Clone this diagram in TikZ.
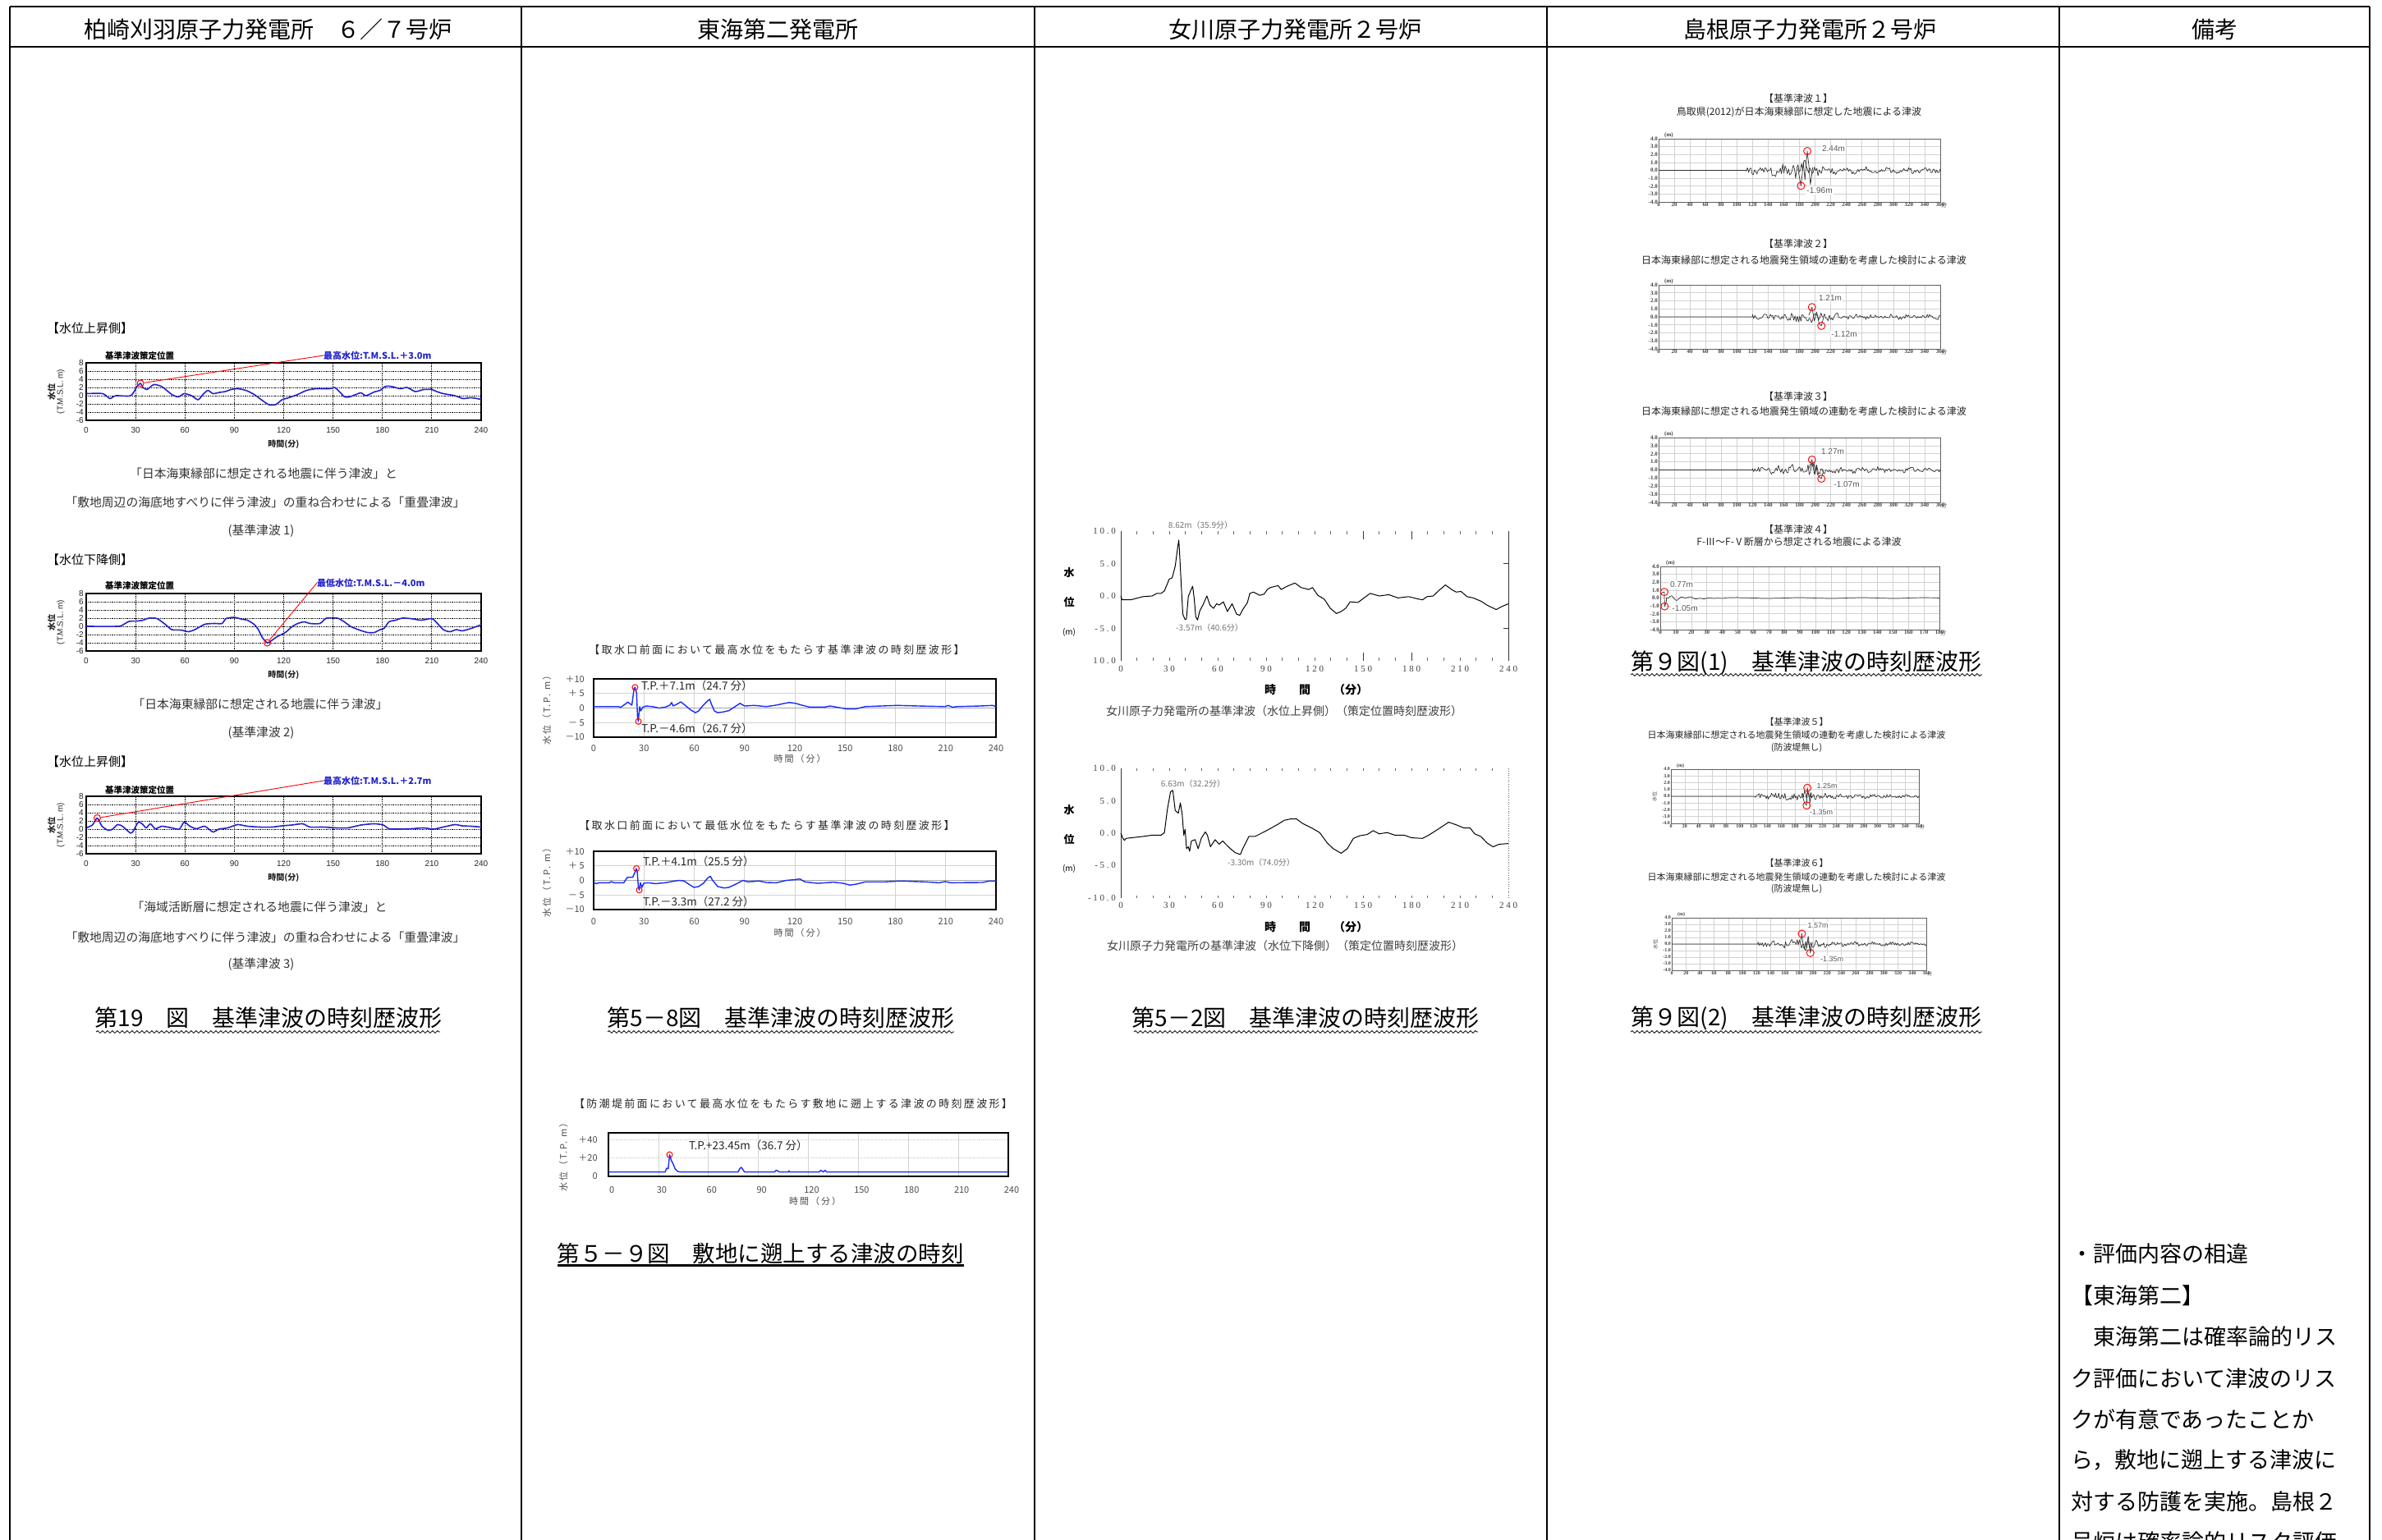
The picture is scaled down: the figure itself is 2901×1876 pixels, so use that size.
\documentclass[tikz,border=0pt]{standalone}
\usepackage{fontspec}
\setmainfont{Noto Sans CJK JP}
\newfontfamily\jp{Noto Sans CJK JP}
\newfontfamily\jpsp[LetterSpace=18]{Noto Sans CJK JP}
\newfontfamily\arf{Liberation Sans}
\newfontfamily\serf{Liberation Serif}
\newfontfamily\serfsp[LetterSpace=25]{Liberation Serif}
\usetikzlibrary{decorations.pathmorphing}
\newcommand\setfs[1]{\fontsize{#1}{#1}\selectfont}
\definecolor{kblue}{RGB}{35,35,205}
\definecolor{tblue}{RGB}{25,45,250}
\tikzset{
 tbl/.style={line width=2.4pt},
 hdr/.style={font=\jp\setfs{28}, inner sep=0pt},
 bigcap/.style={font=\jp\setfs{28}, inner sep=0pt},
 wavy/.style={decorate, decoration={snake, segment length=6pt, amplitude=1.4pt}, line width=0.8pt},
 lbl/.style={font=\jp\setfs{15}, inner sep=0pt, anchor=west},
 kcap/.style={font=\jp\setfs{14.8}, inner sep=0pt, text=black!80},
 kframe/.style={line width=1.5pt},
 kgrid/.style={densely dotted, line width=0.8pt},
 kcurve/.style={kblue, line width=1.6pt, line join=round},
 ktick/.style={font=\arf\setfs{10}, inner sep=0pt, text=black!85},
 kjp/.style={font=\jp\bfseries\setfs{10}, inner sep=0pt, text=black!85},
 ktitle/.style={font=\jp\bfseries\setfs{10.5}, inner sep=0pt, anchor=west},
 kmax/.style={font=\jp\bfseries\setfs{11}, text=kblue, inner sep=0pt, anchor=west},
 kcirc/.style={circle, draw=red, line width=1pt, minimum size=8pt, inner sep=0pt},
 kline/.style={red, line width=0.9pt},
 ttitle/.style={font=\jpsp\setfs{13}, inner sep=0pt, text=black!85},
 tframe/.style={line width=1.8pt},
 tgrid/.style={gray!35, line width=0.7pt},
 tzero/.style={gray!70, line width=0.8pt},
 tcurve/.style={tblue, line width=1.4pt, line join=round},
 ttick/.style={font=\jp\setfs{11}, inner sep=0pt, text=black!70},
 tann/.style={font=\jp\setfs{13.5}, inner sep=0pt, anchor=west, text=black!85},
 tcirc/.style={circle, draw=red, line width=1pt, minimum size=7pt, inner sep=0pt},
 oaxis/.style={line width=1pt, black!80},
 otick/.style={line width=0.7pt, black!60},
 ocurve/.style={black, line width=1pt, line join=round},
 onum/.style={font=\serfsp\setfs{11}, inner sep=0pt, text=black!75},
 olab/.style={font=\jp\bfseries\setfs{13}, inner sep=0pt},
 oann/.style={font=\jp\setfs{10}, inner sep=0pt, text=black!55},
 ocap/.style={font=\jp\setfs{14}, inner sep=0pt, text=black!75},
 sgridl/.style={gray!35, line width=0.6pt},
 sframe/.style={gray!75!black, line width=0.9pt},
 scurve/.style={black!80, line width=0.7pt, line join=round},
 stick/.style={inner sep=1pt, text=black!75},
 sann/.style={font=\arf\setfs{10}, fill=white, inner sep=1pt, text=black!65},
 scirc/.style={circle, draw=red, line width=0.9pt, minimum size=9pt, inner sep=0pt},
 stitle/.style={font=\jp\setfs{12}, inner sep=0pt, text=black!85},
 rem/.style={font=\jp\setfs{27}, inner sep=0pt, anchor=west},
 sch/.style n args={5}{shift={(#1,{(#3+#4)/2})}, xscale={(#2-#1)/#5}, yscale={-(#4-#3)/8}}
}
% grid, frame and labels of a Shimane chart: #1 tmax, #2 step, #3 font size
\newcommand\sgrid[3]{%
 \foreach \xx in {0,#2,...,#1} \draw[sgridl] (\xx,-4) -- (\xx,4);
 \foreach \yy in {-3,...,3} \draw[sgridl] (0,\yy) -- (#1,\yy);
 \draw[sframe] (0,-4) rectangle (#1,4);
 \foreach \yy/\lab in {4/4.0,3/3.0,2/2.0,1/1.0,0/0.0,-1/-1.0,-2/-2.0,-3/-3.0,-4/-4.0}
   \node[stick,font=\serf\bfseries\setfs{#3},anchor=east] at (0,\yy) {\lab};
 \foreach \xx in {0,#2,...,#1}
   \node[stick,font=\serf\bfseries\setfs{#3},anchor=north] at (\xx,-4) {\xx};
 \node[stick,font=\jp\setfs{#3},anchor=north west] at (#1,-4) {分};
 \node[stick,font=\serf\bfseries\setfs{#3},anchor=south west,xshift=6pt] at (0,4) {(m)};
}
\begin{document}
\begin{tikzpicture}[x=1pt,y=-1pt]
\useasboundingbox (0,0) rectangle (2901,1876);
\fill[white] (0,0) rectangle (2901,1876);
\pgfmathsetseed{2718}
% ---------------- table ----------------
\draw[tbl] (12,8) -- (2886,8);
\draw[tbl] (12,57) -- (2886,57);
\foreach \xx in {12,635,1260,1884,2508,2886} \draw[tbl] (\xx,8) -- (\xx,1880);
\node[hdr] (h1) at (326,36) {柏崎刈羽原子力発電所　６／７号炉};
\node[hdr] (h2) at (947,36) {東海第二発電所};
\node[hdr] (h3) at (1577,36) {女川原子力発電所２号炉};
\node[hdr] (h4) at (2204,36) {島根原子力発電所２号炉};
\node[hdr] (h5) at (2697,36) {備考};

% ---------------- column 1 : Kashiwazaki-Kariwa ----------------
\node[lbl] (k1h) at (57,400) {【水位上昇側】};
\begin{scope}[shift={(105,482)},xscale=2.004,yscale=-5]
 \foreach \yy in {-4,-2,...,6} \draw[kgrid] (0,\yy) -- (240,\yy);
 \foreach \xx in {30,60,...,210} \draw[kgrid] (\xx,-6) -- (\xx,8);
 \draw[kframe] (0,-6) rectangle (240,8);
 \foreach \yy in {-6,-4,...,8} \node[ktick,anchor=east] at (-1.5,\yy) {\yy};
 \foreach \xx in {0,30,...,240} \node[ktick] at (\xx,-8.4) {\xx};
 \node[kjp] at (120,-11.8) {時間(分)};
 \node[kjp,rotate=90] at (-21,1) {水位};
 \node[ktick,rotate=90] at (-15.5,1) {(T.M.S.L. m)};
 \draw[kcurve] plot[smooth,tension=0.4] coordinates {(0,0.5) (10,0.5) (14.4,-0.7) (18,0) (27,0) (31,2.3) (33,3.0) (34.5,2) (37,1.5) (41,2.7) (46,2.2) (52,0.3) (56,-0.3) (59.5,0.5) (64,0) (68,-1) (71,0.3) (74,1.3) (77,0.5) (81,0.8) (84.5,1) (88,1.5) (92,1.7) (97,1.3) (102,0.3) (107.5,-1.3) (111,-2.2) (115,-2.2) (119,-1) (123,-0.5) (128.6,0.3) (134,1.3) (140,1.7) (148,1.7) (151,2) (154.6,0.7) (157,-0.3) (160,-0.3) (164,0.3) (167,0.7) (170,0) (175,0.9) (178.6,1.3) (182,2.3) (186,2.2) (191,1.7) (195,2) (200,1) (205,1.5) (210,1.5) (213,1) (217,0.5) (224,0) (229,-0.7) (234,-0.5) (240,-0.9)};
 \node[kcirc] (kc1) at (33,3.0) {};
\end{scope}
\node[ktitle] (kt1) at (128,433) {基準津波策定位置};
\node[kmax] (km1) at (394,433) {最高水位:T.M.S.L.＋3.0m};
\draw[kline] (kc1) -- (km1.west);
\node[kcap] (kp1) at (321,577) {「日本海東縁部に想定される地震に伴う津波」と};
\node[kcap] (kp2) at (323,612) {「敷地周辺の海底地すべりに伴う津波」の重ね合わせによる「重畳津波」};
\node[kcap] (kp3) at (318,647) {(基準津波 1)};

\node[lbl] (k2h) at (57,682) {【水位下降側】};
\begin{scope}[shift={(105,763)},xscale=2.004,yscale=-5]
 \foreach \yy in {-4,-2,...,6} \draw[kgrid] (0,\yy) -- (240,\yy);
 \foreach \xx in {30,60,...,210} \draw[kgrid] (\xx,-6) -- (\xx,8);
 \draw[kframe] (0,-6) rectangle (240,8);
 \foreach \yy in {-6,-4,...,8} \node[ktick,anchor=east] at (-1.5,\yy) {\yy};
 \foreach \xx in {0,30,...,240} \node[ktick] at (\xx,-8.4) {\xx};
 \node[kjp] at (120,-11.8) {時間(分)};
 \node[kjp,rotate=90] at (-21,1) {水位};
 \node[ktick,rotate=90] at (-15.5,1) {(T.M.S.L. m)};
 \draw[kcurve] plot[smooth,tension=0.4] coordinates {(0,0) (19,0) (22,0.3) (26,1.2) (31,1.3) (34.5,1.5) (38,2) (43,1.9) (48,0.5) (52,-0.8) (57.6,-0.9) (62,-1.3) (66,-0.8) (72,0.5) (77.8,0.7) (82.5,0.7) (85,1.9) (90,2.2) (95,1.7) (98,1.5) (102,0.5) (104.6,-0.8) (107,-2.7) (110,-4.0) (112.5,-3.5) (116,-2.5) (121,-1.5) (125,-0.1) (128.6,0.7) (132.5,1.1) (136,0.7) (142,0.7) (146,2) (152.6,2) (156.5,1.2) (161,-0.1) (166,-0.9) (171,-1.5) (175,-1.5) (178.6,-0.8) (181,-0.5) (184,1.1) (188,1.5) (192,2) (197,1.9) (203.5,1.5) (210,1.9) (213,0.9) (217,-0.8) (221,-1.3) (225,-0.8) (228.5,-1.1) (234,-0.5) (240,0.4)};
 \node[kcirc] (kc2) at (110,-4.0) {};
\end{scope}
\node[ktitle] (kt2) at (128,713) {基準津波策定位置};
\node[kmax] (km2) at (386,710) {最低水位:T.M.S.L.－4.0m};
\draw[kline] (kc2) -- (km2.west);
\node[kcap] (kp4) at (317,858) {「日本海東縁部に想定される地震に伴う津波」};
\node[kcap] (kp5) at (318,893) {(基準津波 2)};

\node[lbl] (k3h) at (57,928) {【水位上昇側】};
\begin{scope}[shift={(105,1010)},xscale=2.004,yscale=-5]
 \foreach \yy in {-4,-2,...,6} \draw[kgrid] (0,\yy) -- (240,\yy);
 \foreach \xx in {30,60,...,210} \draw[kgrid] (\xx,-6) -- (\xx,8);
 \draw[kframe] (0,-6) rectangle (240,8);
 \foreach \yy in {-6,-4,...,8} \node[ktick,anchor=east] at (-1.5,\yy) {\yy};
 \foreach \xx in {0,30,...,240} \node[ktick] at (\xx,-8.4) {\xx};
 \node[kjp] at (120,-11.8) {時間(分)};
 \node[kjp,rotate=90] at (-21,1) {水位};
 \node[ktick,rotate=90] at (-15.5,1) {(T.M.S.L. m)};
 \draw[kcurve] plot[smooth,tension=0.4] coordinates {(0,0.3) (3.8,1) (6.7,2.7) (9.6,0.7) (13.4,-0.3) (16,0) (19,1.1) (22,0.7) (27,-1) (28.8,-0.3) (31.7,1.7) (34.5,1.1) (36.5,0.3) (39,1.3) (42,0.1) (46,0.7) (52,0.3) (56.6,0) (59.5,1.7) (63,0.7) (67,0.1) (72,0.7) (77,-0.7) (80.6,0) (86,0.3) (92,1.1) (98,0.7) (105.6,0.5) (113,0.5) (119,0.8) (125,1) (131.5,1.3) (136,0.5) (144,0.5) (151.7,0.3) (159,0.3) (167,1) (175,1.3) (180.5,1) (184,0.1) (190,0) (198,0.1) (205,0.3) (211,0) (217,0.5) (224,1.1) (228.5,0.8) (234,0.7) (240,0.5)};
 \node[kcirc] (kc3) at (6.7,2.7) {};
\end{scope}
\node[ktitle] (kt3) at (128,962) {基準津波策定位置};
\node[kmax] (km3) at (394,951) {最高水位:T.M.S.L.＋2.7m};
\draw[kline] (kc3) -- (km3.west);
\node[kcap] (kp6) at (316,1105) {「海域活断層に想定される地震に伴う津波」と};
\node[kcap] (kp7) at (323,1142) {「敷地周辺の海底地すべりに伴う津波」の重ね合わせによる「重畳津波」};
\node[kcap] (kp8) at (318,1175) {(基準津波 3)};
\node[bigcap] (c1) at (327,1240) {第19　図　基準津波の時刻歴波形};
\draw[wavy] (117,1257) -- (536,1257);

% ---------------- column 2 : Tokai Daini ----------------
\node[ttitle] (tt1) at (946,792) {【取水口前面において最高水位をもたらす基準津波の時刻歴波形】};
\begin{scope}[shift={(723,862.5)},xscale=2.0417,yscale=-3.55]
 \foreach \xx in {30,60,...,210} \draw[tgrid] (\xx,-10) -- (\xx,10);
 \foreach \yy in {-5,5} \draw[tgrid] (0,\yy) -- (240,\yy);
 \draw[tzero] (0,0) -- (240,0);
 \draw[tframe] (0,-10) rectangle (240,10);
 \foreach \yy/\lab in {10/＋10,5/＋ 5,0/0,-5/－ 5,-10/－10} \node[ttick,anchor=east] at (-5.4,\yy) {\lab};
 \foreach \xx in {0,30,...,240} \node[ttick] at (\xx,-13.9) {\xx};
 \node[ttick,font=\jpsp\setfs{11}] at (123,-17.4) {時間（分）};
 \node[ttick,rotate=90,font=\jpsp\setfs{11}] at (-28,0) {水位（T.P. m）};
 \draw[tcurve] (0,0.5) -- (15,0.5) -- (16,0.2) -- (19.5,1.6) -- (20.3,2.1) -- (21.8,1.4) -- (22.8,1) -- (24.1,6.7) -- (24.7,7.1) -- (25.6,5.2) -- (26.2,-3.3) -- (26.7,-4.6) -- (26.9,-2.4) -- (27.5,0.5) -- (28,-1) -- (29.4,0.3) -- (31.3,0.7) -- (35,0.5) -- (39,0) -- (42.7,0.3) -- (45.5,1) -- (46.5,1.9) -- (47.4,0.7) -- (49.3,1.2) -- (52,2.1) -- (54,1.2) -- (58,-0.7) -- (60.7,-1.6) -- (62.6,-1) -- (65.4,1) -- (68.3,2.6) -- (69.2,3) -- (70.2,1.4) -- (72,-1) -- (74,-1.6) -- (76.8,-1.4) -- (80.6,-0.9) -- (84.4,0.5) -- (87.3,1.6) -- (90,0.7) -- (95.8,0.9) -- (103,0.5) -- (109,1) -- (113.8,1.6) -- (116.7,1.9) -- (120.5,1.6) -- (124,1) -- (129,0.3) -- (137.5,0.3) -- (141,0.7) -- (145,0.3) -- (150.8,-0.3) -- (156.5,-0.3) -- (162,0.5) -- (171.7,0.7) -- (181,0.9) -- (194,0.7) -- (209.6,0.5) -- (211.5,0.9) -- (214,0.3) -- (217,0.5) -- (230.5,0.7) -- (238,0.9) -- (240,0.5);
 \node[tcirc] (tc1) at (24.7,7.1) {};
 \node[tcirc] (tc2) at (26.7,-4.6) {};
\end{scope}
\node[tann] (ta1) at (781,835) {T.P.＋7.1m（24.7 分）};
\node[tann] (ta2) at (781,887) {T.P.－4.6m（26.7 分）};

\node[ttitle] (tt2) at (934,1006) {【取水口前面において最低水位をもたらす基準津波の時刻歴波形】};
\begin{scope}[shift={(723,1072.5)},xscale=2.0417,yscale=-3.55]
 \foreach \xx in {30,60,...,210} \draw[tgrid] (\xx,-10) -- (\xx,10);
 \foreach \yy in {-5,5} \draw[tgrid] (0,\yy) -- (240,\yy);
 \draw[tzero] (0,0) -- (240,0);
 \draw[tframe] (0,-10) rectangle (240,10);
 \foreach \yy/\lab in {10/＋10,5/＋ 5,0/0,-5/－ 5,-10/－10} \node[ttick,anchor=east] at (-5.4,\yy) {\lab};
 \foreach \xx in {0,30,...,240} \node[ttick] at (\xx,-14.2) {\xx};
 \node[ttick,font=\jpsp\setfs{11}] at (123,-17.9) {時間（分）};
 \node[ttick,rotate=90,font=\jpsp\setfs{11}] at (-28,0) {水位（T.P. m）};
 \draw[tcurve] (0,-0.8) -- (1.9,-1.1) -- (2.8,-0.8) -- (9.5,-0.8) -- (10.4,-0.4) -- (12.3,-0.8) -- (18,-0.8) -- (20,1) -- (21.8,1.1) -- (23.3,1.1) -- (24.7,2.9) -- (25.5,4.1) -- (26,2.9) -- (26.7,-2.4) -- (27.2,-3.3) -- (27.9,-0.8) -- (28.8,-2.4) -- (29.8,-1) -- (32.2,-0.8) -- (37,-1.1) -- (42.7,-0.8) -- (48.4,-0.2) -- (51,0) -- (54,-0.2) -- (57,-1.4) -- (59.8,-2.4) -- (62.6,-2.1) -- (65.4,-1) -- (68.3,1) -- (69.6,1.4) -- (71,0) -- (74,-2.1) -- (77.8,-2.6) -- (80.6,-2.4) -- (84.4,-1.4) -- (89,0) -- (92,-0.5) -- (98.6,-0.2) -- (103,-0.7) -- (109,-0.8) -- (114.8,0) -- (120.5,0.3) -- (123,0.5) -- (126,-0.5) -- (133.7,-1) -- (143,-0.6) -- (149,-1) -- (152.7,-1.6) -- (156.5,-1.3) -- (162,-0.5) -- (173.5,-0.5) -- (183,-0.2) -- (198,-0.5) -- (206,-0.8) -- (209.6,-0.4) -- (213,-0.8) -- (232,-0.7) -- (236,-0.2) -- (240,-0.2);
 \node[tcirc] (tc3) at (25.5,4.1) {};
 \node[tcirc] (tc4) at (27.2,-3.3) {};
\end{scope}
\node[tann] (ta3) at (783,1049) {T.P.＋4.1m（25.5 分）};
\node[tann] (ta4) at (783,1098) {T.P.－3.3m（27.2 分）};
\node[bigcap] (c2) at (951,1240) {第5－8図　基準津波の時刻歴波形};
\draw[wavy] (740,1257) -- (1162,1257);

\node[ttitle] (tt3) at (966,1345) {【防潮堤前面において最高水位をもたらす敷地に遡上する津波の時刻歴波形】};
\begin{scope}[shift={(741,1433)},xscale=2.029,yscale=-1.125]
 \foreach \xx in {30,60,...,210} \draw[tgrid] (\xx,0) -- (\xx,47.1);
 \foreach \yy in {20,40} \draw[tgrid,densely dotted] (0,\yy) -- (240,\yy);
 \draw[tframe] (0,0) rectangle (240,47.1);
 \foreach \yy/\lab in {40/＋40,20/＋20,0/0} \node[ttick,anchor=east] at (-6.5,\yy) {\lab};
 \foreach \xx in {0,30,...,240} \node[ttick] at (\xx+2,-15.1) {\xx};
 \node[ttick,font=\jpsp\setfs{11}] at (124,-26.7) {時間（分）};
 \node[ttick,rotate=90,font=\jpsp\setfs{11}] at (-27,23) {水位（T.P. m）};
 \draw[tcurve] (0,4.7) -- (34,4.7) -- (35,8.9) -- (35.9,8.3) -- (36.7,23.45) -- (37.8,17) -- (38.7,14) -- (40,8.3) -- (41.6,5.3) -- (43.5,4.7) -- (77.8,4.7) -- (78.8,8.3) -- (79.8,9.8) -- (81.7,4.7) -- (99.8,4.7) -- (100.7,6.8) -- (102.6,4.7) -- (108,4.7) -- (108.4,5.9) -- (109,4.7) -- (126.5,4.7) -- (127.5,6.5) -- (129,4.7) -- (130,6.5) -- (131,4.7) -- (240,4.7);
 \node[tcirc] (tc5) at (36.7,23.45) {};
\end{scope}
\node[tann] (ta5) at (839,1395) {T.P.+23.45m（36.7 分）};
\node[bigcap,font=\jp\setfs{27.5}] (c3) at (926,1527) {第５－９図　敷地に遡上する津波の時刻};
\draw[line width=3pt] (679,1541) -- (1174,1541);

% ---------------- column 3 : Onagawa ----------------
\begin{scope}[shift={(1365,726)},xscale=1.967,yscale=-7.9]
 \draw[oaxis] (0,10) -- (0,-10);
 \draw[oaxis] (240,10) -- (240,-10);
 \foreach \yy in {5,-5} \draw[oaxis] (240,\yy) -- (237,\yy);
 \foreach \xx in {10,20,...,230} {\draw[otick] (\xx,10) -- (\xx,9.5); \draw[otick] (\xx,-10) -- (\xx,-9.5);}
 \foreach \xx in {150,180} {\draw[oaxis] (\xx,10) -- (\xx,8.7); \draw[oaxis] (\xx,-10) -- (\xx,-8.7);}
 \foreach \yy/\lab in {10/10.0,5/5.0,0/0.0,-5/-5.0,-10/10.0} \node[onum,anchor=east] at (-3,\yy) {\lab};
 \foreach \xx in {0,30,...,240} \node[onum] at (\xx,-11.3) {\xx};
 \draw[ocurve] (0,0) -- (0.8,-0.6) -- (6,-0.6) -- (13.7,-0.1) -- (19.4,0) -- (22.3,0.4) -- (25,0.4) -- (27,0.8) -- (30,2.6) -- (31.8,2.8) -- (33.7,4.6) -- (35,7.1) -- (35.9,8.62) -- (36.3,7.1) -- (37.5,1.3) -- (38.4,-2.8) -- (39.7,-3.6) -- (40.6,-3.57) -- (41.8,-0.1) -- (43.2,0.8) -- (44.5,1.5) -- (45.5,-0.5) -- (46.4,-3.2) -- (47.5,-3.7) -- (48.9,-2.3) -- (50.8,-1.4) -- (53.3,0) -- (55.2,-1.4) -- (57.4,-1.9) -- (59.3,-1.2) -- (60.9,-1.4) -- (63.5,-0.9) -- (66,-2.4) -- (68.9,-1.2) -- (71.7,-2.8) -- (73.6,-3) -- (75.5,-2.1) -- (78.4,-1) -- (79.9,0.4) -- (82.2,0.6) -- (86,0.1) -- (88.8,0.3) -- (90.7,1) -- (92.6,1.3) -- (97.4,1.6) -- (99.3,1) -- (103,1.5) -- (107.8,2) -- (111.6,1.3) -- (116.4,1) -- (118.7,1.3) -- (122,0.1) -- (126,-0.5) -- (129.7,-1.9) -- (133.5,-2.7) -- (136.4,-2.4) -- (139.2,-1.9) -- (142,-0.9) -- (146.8,-1) -- (150.6,-0.3) -- (154.4,0.4) -- (160,0) -- (165.9,0.2) -- (171.6,-0.3) -- (178.2,-0.1) -- (183,-0.4) -- (186.8,-0.6) -- (189.6,-0.1) -- (193.4,0) -- (197.2,0.9) -- (201,1.7) -- (204.8,1) -- (207.7,0.6) -- (210.6,0.7) -- (214.4,-0.1) -- (218.2,-0.3) -- (223,-0.8) -- (226.7,-1.4) -- (232.4,-2.1) -- (235.3,-1.7) -- (240,-1.2);
\end{scope}
\node[olab] (oy1) at (1302,698) {水};
\node[olab] (oy2) at (1302,734) {位};
\node[olab,font=\jp\setfs{10}] (oy3) at (1302,770) {(m)};
\node[oann] (oa1) at (1462,640) {8.62m（35.9分）};
\node[oann] (oa2) at (1473,765) {-3.57m（40.6分）};
\node[olab,anchor=west,font=\jp\bfseries\setfs{14}] (ox1) at (1540,840) {時　　間　　（分）};
\node[ocap] (oc1) at (1564,866) {女川原子力発電所の基準津波（水位上昇側）（策定位置時刻歴波形）};

\begin{scope}[shift={(1365,1015)},xscale=1.967,yscale=-7.88]
 \draw[oaxis] (0,10) -- (0,-10);
 \draw[otick,dotted] (240,10) -- (240,-10);
 \foreach \xx in {10,20,...,230} {\draw[otick] (\xx,10) -- (\xx,9.6); \draw[otick] (\xx,-10) -- (\xx,-9.6);}
 \foreach \yy/\lab in {10/10.0,5/5.0,0/0.0,-5/-5.0,-10/-10.0} \node[onum,anchor=east] at (-3,\yy) {\lab};
 \foreach \xx in {0,30,...,240} \node[onum] at (\xx,-11.2) {\xx};
 \draw[ocurve] (0,0) -- (1.3,-0.8) -- (2.3,-1.1) -- (3.2,-0.8) -- (13.7,-0.5) -- (19.4,-0.3) -- (25,-0.3) -- (27,0.1) -- (28.9,3.8) -- (30.8,6.4) -- (32.2,6.63) -- (33.7,3.5) -- (35.6,3.1) -- (36.9,4.7) -- (38,2.9) -- (39,-0.3) -- (39.8,0.6) -- (40.7,-2.4) -- (41.8,-2.1) -- (42.6,-2.8) -- (43.7,-1.2) -- (46,-1) -- (47.9,-2.4) -- (49.8,-0.8) -- (52.3,0.2) -- (53.6,-0.3) -- (55.5,-2.1) -- (58.4,-1) -- (60.9,-1.7) -- (63.1,-1.2) -- (65,-1.7) -- (67.9,-2.4) -- (70.8,-3) -- (74,-3.3) -- (75.5,-2.4) -- (79.3,-0.5) -- (83.1,-0.5) -- (87.9,0.1) -- (91.7,0.6) -- (97.4,1.4) -- (101.2,2) -- (105,2.2) -- (108.8,2.2) -- (112.6,1.5) -- (118.3,0.8) -- (123.1,0.1) -- (127.8,-1.5) -- (131.6,-2.4) -- (136.4,-3.1) -- (140.2,-2.4) -- (144,-0.8) -- (147.8,-0.4) -- (152.5,-0.2) -- (156.3,0.4) -- (160,-0.1) -- (164.9,0.1) -- (169.7,-0.3) -- (175.4,-0.3) -- (180,-0.7) -- (186.8,-0.8) -- (190.6,-0.3) -- (196.3,0.6) -- (203,1.7) -- (207.7,1.3) -- (212.5,0.8) -- (216.3,0.8) -- (219.1,-0.1) -- (222.9,-0.5) -- (226.7,-1.5) -- (230.5,-2.1) -- (234.3,-1.7) -- (240,-1.6);
\end{scope}
\node[olab] (oy4) at (1302,987) {水};
\node[olab] (oy5) at (1302,1023) {位};
\node[olab,font=\jp\setfs{10}] (oy6) at (1302,1058) {(m)};
\node[oann] (oa3) at (1453,955) {6.63m（32.2分）};
\node[oann] (oa4) at (1536,1051) {-3.30m（74.0分）};
\node[olab,anchor=west,font=\jp\bfseries\setfs{14}] (ox2) at (1540,1129) {時　　間　　（分）};
\node[ocap] (oc2) at (1565,1152) {女川原子力発電所の基準津波（水位下降側）（策定位置時刻歴波形）};
\node[bigcap] (c4) at (1590,1240) {第5－2図　基準津波の時刻歴波形};
\draw[wavy] (1381,1257) -- (1800,1257);

% ---------------- column 4 : Shimane ----------------
\node[stitle] (s1a) at (2190,120) {【基準津波１】};
\node[stitle] (s1b) at (2191,137) {鳥取県(2012)が日本海東縁部に想定した地震による津波};
\begin{scope}[sch={2020}{2363}{169}{246}{360}]
 \sgrid{360}{20}{7}
 \draw[scurve] (0,0) -- (112,0) -- plot[domain=112:360,samples=166] (\x,{(0.28+0.5/(1+((\x-168)/28)*((\x-168)/28))+0.6/(1+((\x-190)/7)*((\x-190)/7)))*rand+0.18*sin(14*\x)});
 \draw[scurve] (178,0.2) -- (182,-1.96) -- (185,1.0) -- (187,-1.2) -- (190,2.44) -- (192,0.6) -- (194,-1.8) -- (197,0.4);
 \node[scirc] (sc1) at (190,2.44) {};
 \node[scirc] (sc2) at (182,-1.96) {};
\end{scope}
\node[sann] (sa1) at (2233,181) {2.44m};
\node[sann] (sa2) at (2216,232) {-1.96m};

\node[stitle] (s2a) at (2190,297) {【基準津波２】};
\node[stitle] (s2b) at (2197,317) {日本海東縁部に想定される地震発生領域の連動を考慮した検討による津波};
\begin{scope}[sch={2020}{2363}{347}{425}{360}]
 \sgrid{360}{20}{7}
 \draw[scurve] (0,0) -- (120,0) -- plot[domain=120:360,samples=160] (\x,{(0.22+0.4/(1+((\x-180)/32)*((\x-180)/32))+0.3/(1+((\x-200)/8)*((\x-200)/8)))*rand+0.15*sin(16*\x)});
 \draw[scurve] (192,0.2) -- (196,1.21) -- (199,-0.5) -- (202,0.6) -- (205,-0.8) -- (208,-1.12) -- (211,0);
 \node[scirc] (sc3) at (196,1.21) {};
 \node[scirc] (sc4) at (208,-1.12) {};
\end{scope}
\node[sann] (sa3) at (2229,363) {1.21m};
\node[sann] (sa4) at (2246,407) {-1.12m};

\node[stitle] (s3a) at (2190,483) {【基準津波３】};
\node[stitle] (s3b) at (2197,501) {日本海東縁部に想定される地震発生領域の連動を考慮した検討による津波};
\begin{scope}[sch={2020}{2363}{533}{612}{360}]
 \sgrid{360}{20}{7}
 \draw[scurve] (0,0) -- (120,0) -- plot[domain=120:360,samples=160] (\x,{(0.22+0.4/(1+((\x-180)/32)*((\x-180)/32))+0.3/(1+((\x-200)/8)*((\x-200)/8)))*rand+0.15*sin(17*\x)});
 \draw[scurve] (192,0.2) -- (196,1.27) -- (199,-0.5) -- (202,0.6) -- (205,-0.8) -- (208,-1.07) -- (211,0);
 \node[scirc] (sc5) at (196,1.27) {};
 \node[scirc] (sc6) at (208,-1.07) {};
\end{scope}
\node[sann] (sa5) at (2232,550) {1.27m};
\node[sann] (sa6) at (2249,590) {-1.07m};

\node[stitle] (s4a) at (2190,645) {【基準津波４】};
\node[stitle] (s4b) at (2191,660) {F-Ⅲ～F-Ⅴ断層から想定される地震による津波};
\begin{scope}[sch={2022}{2362}{690}{767}{180}]
 \sgrid{180}{10}{7}
 \draw[scurve] (0,0.6) -- (2.6,0.77) -- (2.8,-1.05) -- (4,-0.4) -- plot[domain=4:180,samples=160] (\x,{0.4/(1+(\x/10)*(\x/10))*sin(60*\x)+0.3/(1+(\x/12)*(\x/12))*sin(25*\x)+0.05*sin(9*\x)});
 \node[scirc] (sc7) at (2.6,0.77) {};
 \node[scirc] (sc8) at (2.8,-1.05) {};
\end{scope}
\node[sann] (sa7) at (2048,712) {0.77m};
\node[sann] (sa8) at (2052,741) {-1.05m};
\node[bigcap] (c5) at (2200,807) {第９図(1)　基準津波の時刻歴波形};
\draw[wavy] (1986,822) -- (2414,822);

\node[stitle,font=\jp\setfs{11}] (s5a) at (2188,879) {【基準津波５】};
\node[stitle,font=\jp\setfs{11}] (s5b) at (2188,895) {日本海東縁部に想定される地震発生領域の連動を考慮した検討による津波};
\node[stitle,font=\jp\setfs{11}] (s5c) at (2188,911) {(防波堤無し)};
\begin{scope}[sch={2035}{2337}{937}{1003}{360}]
 \sgrid{360}{20}{6}
 \draw[scurve] (0,0) -- (122,0) -- plot[domain=122:360,samples=160] (\x,{(0.2+0.4/(1+((\x-180)/32)*((\x-180)/32))+0.3/(1+((\x-197)/8)*((\x-197)/8)))*rand+0.14*sin(15*\x)});
 \draw[scurve] (190,0.3) -- (194,-1.0) -- (197,-1.35) -- (198,1.25) -- (200,0.2) -- (202,-0.9) -- (204,0.5);
 \node[scirc] (sc9) at (198,1.25) {};
 \node[scirc] (sc10) at (197,-1.35) {};
\end{scope}
\node[sann,font=\arf\setfs{9}] (sa9) at (2225,957) {1.25m};
\node[sann,font=\arf\setfs{9}] (sa10) at (2218,989) {-1.35m};
\node[stick,font=\jp\setfs{6},rotate=90] (sy5) at (2015,970) {水位};

\node[stitle,font=\jp\setfs{11}] (s6a) at (2188,1051) {【基準津波６】};
\node[stitle,font=\jp\setfs{11}] (s6b) at (2188,1068) {日本海東縁部に想定される地震発生領域の連動を考慮した検討による津波};
\node[stitle,font=\jp\setfs{11}] (s6c) at (2188,1083) {(防波堤無し)};
\begin{scope}[sch={2036}{2346}{1118}{1182}{360}]
 \sgrid{360}{20}{6}
 \draw[scurve] (0,0) -- (122,0) -- plot[domain=122:360,samples=160] (\x,{(0.2+0.4/(1+((\x-180)/32)*((\x-180)/32))+0.35/(1+((\x-192)/8)*((\x-192)/8)))*rand+0.14*sin(13*\x)});
 \draw[scurve] (182,0.3) -- (184,1.57) -- (186,-0.5) -- (190,-1.0) -- (193,1.2) -- (196,-1.35) -- (199,0.3);
 \node[scirc] (sc11) at (184,1.57) {};
 \node[scirc] (sc12) at (196,-1.35) {};
\end{scope}
\node[sann,font=\arf\setfs{9}] (sa11) at (2214,1127) {1.57m};
\node[sann,font=\arf\setfs{9}] (sa12) at (2231,1168) {-1.35m};
\node[stick,font=\jp\setfs{6},rotate=90] (sy6) at (2016,1150) {水位};
\node[bigcap] (c6) at (2200,1240) {第９図(2)　基準津波の時刻歴波形};
\draw[wavy] (1986,1257) -- (2414,1257);

% ---------------- column 5 : remarks ----------------
\node[rem] (r1) at (2522,1527) {・評価内容の相違};
\node[rem] (r2) at (2522,1578) {【東海第二】};
\node[rem] (r3) at (2522,1628) {　東海第二は確率論的リス};
\node[rem] (r4) at (2522,1679) {ク評価において津波のリス};
\node[rem] (r5) at (2522,1729) {クが有意であったことか};
\node[rem] (r6) at (2522,1779) {ら，敷地に遡上する津波に};
\node[rem] (r7) at (2522,1829) {対する防護を実施。島根２};
\node[rem] (r8) at (2522,1878) {号炉は確率論的リスク評価};
\end{tikzpicture}
\end{document}
